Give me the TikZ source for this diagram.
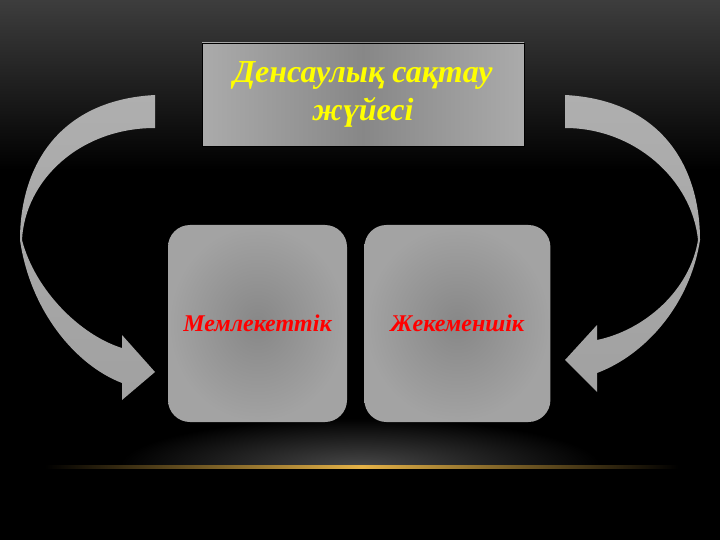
\documentclass[tikz,border=0pt]{standalone}
\usepackage{fontspec}
\setmainfont{Liberation Serif}
\usetikzlibrary{positioning}
\definecolor{topgray}{rgb}{0.24,0.24,0.24}
\definecolor{glowgray}{rgb}{0.28,0.28,0.28}
\definecolor{glowgold}{rgb}{0.90,0.70,0.28}
\definecolor{titlelight}{rgb}{0.67,0.67,0.67}
\definecolor{titledark}{rgb}{0.53,0.53,0.53}
\definecolor{boxlight}{rgb}{0.64,0.64,0.64}
\definecolor{boxdark}{rgb}{0.53,0.53,0.53}
\definecolor{arrowgray}{rgb}{0.63,0.63,0.63}
\definecolor{titleyellow}{rgb}{1,1,0}
\tikzset{
  titlebox/.style={draw=black, line width=0.8pt, left color=titlelight,
    right color=titlelight, middle color=titledark, minimum width=322pt,
    minimum height=103pt, inner sep=0pt, align=center, text=titleyellow,
    font=\fontsize{32}{38}\selectfont\bfseries\itshape},
  kindbox/.style={rounded corners=22pt, inner color=boxdark, outer color=boxlight,
    minimum height=197pt, inner sep=0pt, text=red,
    font=\fontsize{24}{28}\selectfont\bfseries\itshape},
  bentarrow/.style={top color=arrowgray!85!white, bottom color=arrowgray}
}
\begin{document}
\begin{tikzpicture}[x=1pt,y=-1pt]
  \useasboundingbox (0,0) rectangle (720,540);
  % background
  \fill[black] (0,0) rectangle (720,540);
  \shade[top color=topgray, bottom color=black] (0,0) rectangle (720,170);
  \begin{scope}
    \clip (0,380) rectangle (720,466);
    \shade[inner color=glowgray, outer color=black] (360,466) ellipse (240 and 48);
  \end{scope}
  \shade[left color=black, right color=black, middle color=glowgold] (45,465) rectangle (678,468);
  % boxes
  \node[titlebox] (title) at (363,94.5) {Денсаулық сақтау\\жүйесі};
  \node[kindbox, minimum width=179pt] (state) at (257.5,323.5) {Мемлекеттік};
  \node[kindbox, minimum width=186pt, right=17pt of state] (private) {Жекеменшік};
  % left arrow
  \path[bentarrow] (155,95) .. controls (60,100) and (20,165) .. (20,240)
    .. controls (30,310) and (75,365) .. (122,383) -- (122,400) -- (155,372)
    -- (122,335) -- (122,348) .. controls (80,335) and (35,290) .. (22,240)
    .. controls (25,180) and (80,128) .. (155,128) -- cycle;
  % right arrow
  \path[bentarrow] (565,95) .. controls (660,100) and (700,165) .. (700,240)
    .. controls (690,305) and (645,355) .. (597,373) -- (597,392) -- (565,360)
    -- (597,325) -- (597,340) .. controls (645,330) and (690,290) .. (698,240)
    .. controls (692,180) and (635,128) .. (565,128) -- cycle;
\end{tikzpicture}
\end{document}
